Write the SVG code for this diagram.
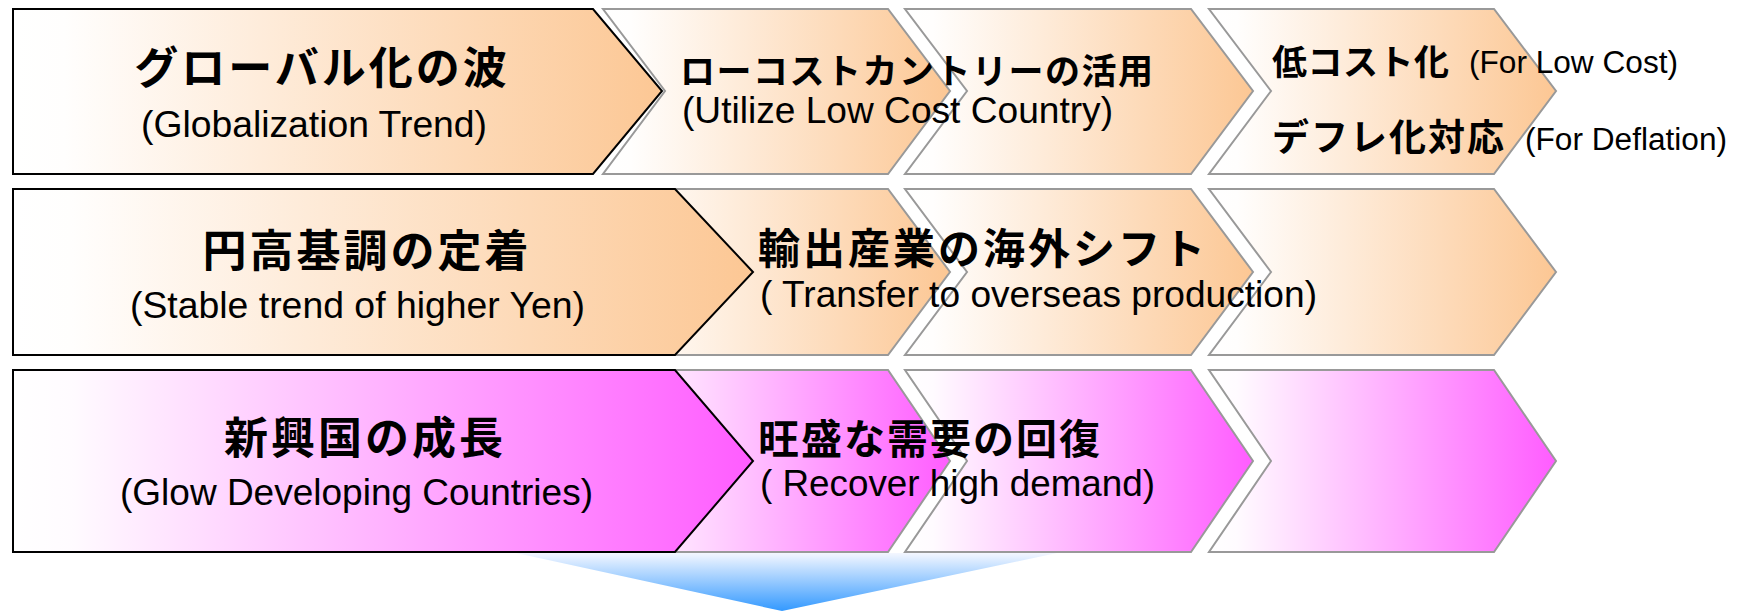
<svg xmlns="http://www.w3.org/2000/svg" width="1745" height="611" viewBox="0 0 1745 611">
<defs>
<linearGradient id="gO" x1="0" y1="0" x2="1" y2="0"><stop offset="0" stop-color="#FFFFFF"/><stop offset="0.08" stop-color="#FFFEFD"/><stop offset="1" stop-color="#FCC794"/></linearGradient>
<linearGradient id="gM" x1="0" y1="0" x2="1" y2="0"><stop offset="0" stop-color="#FFFFFF"/><stop offset="0.08" stop-color="#FFFBFF"/><stop offset="1" stop-color="#FF5CFF"/></linearGradient>
<linearGradient id="gB" x1="0" y1="0" x2="0" y2="1"><stop offset="0" stop-color="#F4F7FF"/><stop offset="1" stop-color="#3399FF"/></linearGradient>
</defs>
<style>
.big{stroke:#000;stroke-width:2;stroke-linejoin:miter}
.sm{stroke:#999;stroke-width:2;stroke-linejoin:miter}
.o{fill:url(#gO)}
.m{fill:url(#gM)}
.jp{font-family:"Noto Sans CJK JP","Noto Sans CJK SC",sans-serif;font-weight:bold;fill:#000}
.en{font-family:"Liberation Sans",Arial,sans-serif;fill:#000}
</style>
<rect width="1745" height="611" fill="#FFFFFF"/>
<g id="connectors">
<path id="down-arrow" d="M516,553 L1057,553 L782,611 Z" fill="url(#gB)"/>
</g>
<g id="row1">
<g id="r1-b"><path class="sm o" d="M603,9 L888,9 L950,91 L888,174 L603,174 L665,91 Z"/></g>
<g id="r1-c"><path class="sm o" d="M905,9 L1191,9 L1253,91 L1191,174 L905,174 L967,91 Z"/></g>
<g id="r1-d"><path class="sm o" d="M1209,9 L1494,9 L1556,91 L1494,174 L1209,174 L1271,91 Z"/></g>
<g id="r1-a"><path class="big o" d="M13,9 L593,9 L662,91 L593,174 L13,174 Z"/></g>
</g>
<g id="row2">
<g id="r2-b"><path class="sm o" d="M603,189 L888,189 L950,272 L888,355 L603,355 L665,272 Z"/></g>
<g id="r2-c"><path class="sm o" d="M905,189 L1191,189 L1253,272 L1191,355 L905,355 L967,272 Z"/></g>
<g id="r2-d"><path class="sm o" d="M1209,189 L1494,189 L1556,272 L1494,355 L1209,355 L1271,272 Z"/></g>
<g id="r2-a"><path class="big o" d="M13,189 L675,189 L753,272 L675,355 L13,355 Z"/></g>
</g>
<g id="row3">
<g id="r3-b"><path class="sm m" d="M603,370 L888,370 L950,461 L888,552 L603,552 L665,461 Z"/></g>
<g id="r3-c"><path class="sm m" d="M905,370 L1191,370 L1253,461 L1191,552 L905,552 L967,461 Z"/></g>
<g id="r3-d"><path class="sm m" d="M1209,370 L1494,370 L1556,461 L1494,552 L1209,552 L1271,461 Z"/></g>
<g id="r3-a"><path class="big m" d="M13,370 L675,370 L753,461 L675,552 L13,552 Z"/></g>
</g>
<g id="labels">
<text class="jp" x="322" y="84" font-size="44" letter-spacing="3" text-anchor="middle">グローバル化の波</text>
<text class="en" x="141" y="137" font-size="37" textLength="346" lengthAdjust="spacingAndGlyphs">(Globalization Trend)</text>
<text class="jp" x="680" y="84" font-size="35" letter-spacing="1.5">ローコストカントリーの活用</text>
<text class="en" x="682" y="123" font-size="37" textLength="431" lengthAdjust="spacingAndGlyphs">(Utilize Low Cost Country)</text>
<text class="jp" x="1272" y="75" font-size="35" letter-spacing="0.5">低コスト化</text>
<text class="en" x="1469" y="73" font-size="31" textLength="209" lengthAdjust="spacingAndGlyphs">(For Low Cost)</text>
<text class="jp" x="1272" y="151" font-size="37" letter-spacing="2">デフレ化対応</text>
<text class="en" x="1525" y="150" font-size="31" textLength="202" lengthAdjust="spacingAndGlyphs">(For Deflation)</text>
<text class="jp" x="367" y="267" font-size="44" letter-spacing="3" text-anchor="middle">円高基調の定着</text>
<text class="en" x="130" y="318" font-size="37" textLength="455" lengthAdjust="spacingAndGlyphs">(Stable trend of higher Yen)</text>
<text class="jp" x="758" y="264" font-size="42" letter-spacing="3">輸出産業の海外シフト</text>
<text class="en" x="760" y="307" font-size="37" textLength="557" lengthAdjust="spacingAndGlyphs">( Transfer to overseas production)</text>
<text class="jp" x="365" y="454" font-size="44" letter-spacing="3" text-anchor="middle">新興国の成長</text>
<text class="en" x="120" y="505" font-size="37" textLength="473" lengthAdjust="spacingAndGlyphs">(Glow Developing Countries)</text>
<text class="jp" x="758" y="454" font-size="41" letter-spacing="2">旺盛な需要の回復</text>
<text class="en" x="760" y="496" font-size="37" textLength="395" lengthAdjust="spacingAndGlyphs">( Recover high demand)</text>
</g>
</svg>
